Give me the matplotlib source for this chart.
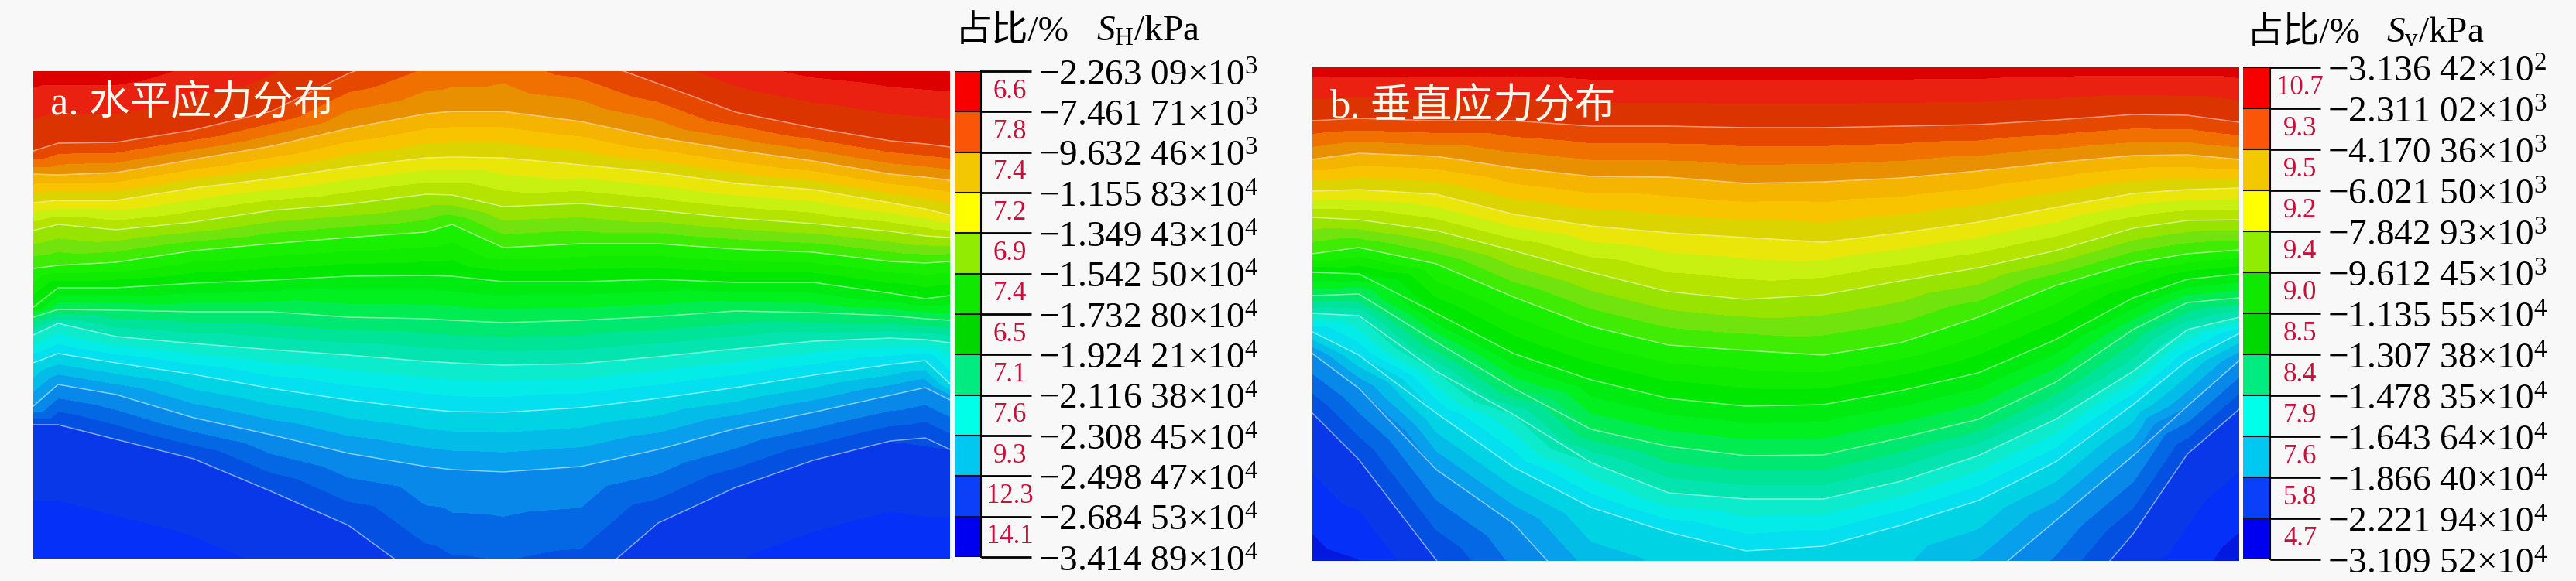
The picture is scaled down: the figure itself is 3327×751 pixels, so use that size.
import matplotlib
matplotlib.use("Agg")
import matplotlib.pyplot as plt
import numpy as np
from matplotlib.transforms import ScaledTranslation

plt.rcParams["font.family"] = ["Liberation Serif", "Noto Sans CJK SC"]
plt.rcParams["mathtext.fontset"] = "custom"
plt.rcParams["mathtext.rm"] = "Liberation Serif"
plt.rcParams["mathtext.it"] = "Liberation Serif:italic"
plt.rcParams["axes.unicode_minus"] = True

W, H = 3327, 751
BG = "#f8f8f8"

# stress at each colour bar tick, kPa
stress_a = [-2263.09, -7461.71, -9632.46, -11558.3, -13494.3, -15425.0, -17328.0,
            -19242.1, -21163.8, -23084.5, -24984.7, -26845.3, -34148.9]
stress_b = [-313.642, -2311.02, -4170.36, -6021.50, -7842.93, -9612.45, -11355.5,
            -13073.8, -14783.5, -16436.4, -18664.0, -22219.4, -31095.2]

labels_a = ["−2.263 09×10$^{3}$", "−7.461 71×10$^{3}$", "−9.632 46×10$^{3}$",
            "−1.155 83×10$^{4}$", "−1.349 43×10$^{4}$", "−1.542 50×10$^{4}$",
            "−1.732 80×10$^{4}$", "−1.924 21×10$^{4}$", "−2.116 38×10$^{4}$",
            "−2.308 45×10$^{4}$", "−2.498 47×10$^{4}$", "−2.684 53×10$^{4}$",
            "−3.414 89×10$^{4}$"]
labels_b = ["−3.136 42×10$^{2}$", "−2.311 02×10$^{3}$", "−4.170 36×10$^{3}$",
            "−6.021 50×10$^{3}$", "−7.842 93×10$^{3}$", "−9.612 45×10$^{3}$",
            "−1.135 55×10$^{4}$", "−1.307 38×10$^{4}$", "−1.478 35×10$^{4}$",
            "−1.643 64×10$^{4}$", "−1.866 40×10$^{4}$", "−2.221 94×10$^{4}$",
            "−3.109 52×10$^{4}$"]

share_a = ["6.6", "7.8", "7.4", "7.2", "6.9", "7.4", "6.5", "7.1", "7.6", "9.3", "12.3", "14.1"]
share_b = ["10.7", "9.3", "9.5", "9.2", "9.4", "9.0", "8.5", "8.4", "7.9", "7.6", "5.8", "4.7"]

# panel a: depth of each contour (one list per tick value) along the section
x_a = [0, 32, 107, 207, 307, 407, 507, 541, 607, 707, 807, 907, 1007, 1107, 1152, 1184]
a0 = [-20, -20, -20, -50, -90, -130, -170, -180, -190, -150, -100, -50, -25, -15, -12, -10]
a1 = [103, 93, 92, 76, 52, 3, -35, -45, -60, -20, 16, 53, 73, 90, 94, 98]
a2 = [133, 134, 131, 114, 97, 74, 55, 52, 52, 65, 86, 102, 116, 133, 137, 141]
a3 = [170, 167, 167, 151, 139, 124, 112, 111, 112, 121, 131, 145, 153, 170, 178, 186]
a4 = [206, 198, 205, 195, 180, 172, 159, 160, 175, 171, 180, 190, 197, 207, 213, 215]
a5 = [255, 251, 247, 232, 223, 215, 208, 198, 228, 223, 223, 230, 234, 246, 248, 246]
a6 = [305, 280, 280, 274, 270, 265, 264, 265, 272, 272, 269, 273, 273, 287, 294, 290]
a7 = [318, 308, 309, 311, 311, 318, 320, 322, 325, 322, 317, 310, 312, 316, 320, 322]
a8 = [341, 326, 343, 352, 360, 367, 375, 377, 380, 378, 369, 359, 349, 345, 347, 351]
a9 = [377, 365, 377, 392, 410, 425, 437, 440, 441, 435, 423, 409, 393, 379, 374, 404]
a10 = [433, 405, 418, 448, 470, 494, 511, 515, 518, 511, 489, 462, 441, 419, 409, 425]
a11 = [457, 457, 476, 501, 543, 587, 660, 680, 690, 670, 584, 538, 503, 478, 474, 489]
a12 = [750, 750, 770, 800, 860, 950, 1100, 1150, 1200, 1150, 1000, 880, 780, 750, 750, 750]

# panel b
x_b = [0, 60, 160, 260, 360, 460, 560, 660, 760, 860, 960, 1060, 1130, 1197]
b0 = [-15, -15, -15, -15, -15, -15, -15, -15, -15, -15, -15, -15, -15, -15]
b1 = [69, 66, 69, 69, 76, 76, 78, 78, 76, 74, 68, 61, 62, 71]
b2 = [119, 111, 115, 130, 141, 142, 150, 148, 143, 134, 123, 114, 113, 119]
b3 = [160, 158, 164, 190, 205, 214, 220, 226, 214, 200, 181, 163, 158, 156]
b4 = [194, 197, 211, 237, 265, 290, 300, 294, 276, 259, 237, 208, 198, 197]
b5 = [241, 233, 254, 297, 335, 359, 366, 372, 356, 323, 282, 253, 241, 236]
b6 = [265, 267, 318, 370, 404, 428, 438, 436, 418, 395, 352, 298, 274, 267]
b7 = [295, 293, 355, 415, 468, 490, 502, 501, 479, 455, 407, 339, 304, 298]
b8 = [318, 321, 393, 449, 511, 550, 558, 558, 535, 502, 455, 393, 339, 323]
b9 = [342, 372, 447, 517, 569, 601, 625, 619, 592, 560, 510, 436, 379, 344]
b10 = [370, 415, 520, 590, 700, 800, 860, 850, 780, 670, 586, 502, 438, 379]
b11 = [447, 507, 637, 770, 900, 1000, 1100, 1100, 950, 820, 720, 603, 500, 442]
b12 = [680, 700, 900, 1100, 1300, 1400, 1500, 1500, 1400, 1200, 1100, 900, 720, 680]

lines_a = [a0, a1, a2, a3, a4, a5, a6, a7, a8, a9, a10, a11, a12]
lines_b = [b0, b1, b2, b3, b4, b5, b6, b7, b8, b9, b10, b11, b12]

# three shades per band in the maps, top band first
field_colors = ["#dd0000", "#ea2010", "#dc3400",
                "#e64800", "#f07000", "#e89000",
                "#f4b400", "#f8c400", "#dcd400",
                "#eae60a", "#c8f010", "#b4e400",
                "#98e400", "#70e40c", "#40ec04",
                "#18f000", "#10ec00", "#00e800",
                "#00ec10", "#00f020", "#00ec50",
                "#00e870", "#00e498", "#04e4b0",
                "#0ceccc", "#04ece8", "#04e0f0",
                "#00d4e4", "#04bce8", "#08a0ec",
                "#0888e8", "#0468e4", "#0450e0",
                "#0838e8", "#0430f8", "#0418e0"]

bar_colors = ["#f80000", "#fb5508", "#f4c800", "#ffff00", "#90ec00", "#10e800",
              "#00d800", "#00ec80", "#00ffe8", "#00c8f0", "#0c40f8", "#0000f0"]


def add_axes_px(fig, x0, y0, x1, y1):
    return fig.add_axes([x0 / W, 1 - y1 / H, (x1 - x0) / W, (y1 - y0) / H])


def draw_map(fig, box, xs, lines, stress, title, title_y):
    ax = add_axes_px(fig, *box)
    px = np.tile(xs, len(lines))
    py = np.concatenate(lines)
    pz = np.repeat(stress, len(xs))
    fine = np.interp(np.arange(0, 12 + 1 / 6, 1 / 3), np.arange(13), stress)
    ax.tricontourf(px, py, pz, levels=fine[::-1], colors=field_colors[::-1])
    for depth in lines[1:-1]:
        ax.plot(xs, depth, color="white", alpha=0.5, lw=1.1)
    ax.set_xlim(0, box[2] - box[0])
    ax.set_ylim(box[3] - box[1], 0)
    ax.set_xticks([])
    ax.set_yticks([])
    for s in ax.spines.values():
        s.set_visible(False)
    ax.text(22, title_y, title, color="#fff8ec", fontsize=38, va="center")
    return ax


def draw_bar(fig, box, labels, share):
    ax = add_axes_px(fig, *box)
    ax.pcolormesh([0, 1], np.arange(13), np.arange(12).reshape(-1, 1),
                  cmap=matplotlib.colors.ListedColormap(bar_colors))
    ax.set_xlim(0, 1)
    ax.set_ylim(12, 0)
    ax.set_xticks([])
    ax.yaxis.tick_right()
    ax.set_yticks(np.arange(13))
    ax.set_yticklabels(labels, fontsize=34, va="center")
    ax.tick_params(axis="y", length=47, width=2, pad=6, color="black")
    # numbers sit a little below their tick
    shift = ScaledTranslation(0, -7 / 100, fig.dpi_scale_trans)
    for lab in ax.get_yticklabels():
        lab.set_transform(lab.get_transform() + shift)
    for s in ax.spines.values():
        s.set_visible(False)
    ax.spines["right"].set_visible(True)
    ax.spines["right"].set_linewidth(1.5)
    ax.hlines(np.arange(13), 0, 1, color="#201010", lw=1.5)
    for i, txt in enumerate(share):
        ax.text(2.1, i + 0.5, txt, transform=ax.get_yaxis_transform(), color="#c8103c",
                fontsize=25, ha="center", va="center")
    return ax


fig = plt.figure(figsize=(W / 100, H / 100), dpi=100, facecolor=BG)

draw_map(fig, (43, 92, 1227, 722), x_a, lines_a, stress_a, "a. 水平应力分布", 42)
draw_bar(fig, (1233, 92, 1267, 720), labels_a, share_a)
draw_map(fig, (1695, 87, 2892, 725), x_b, lines_b, stress_b, "b. 垂直应力分布", 51)
draw_bar(fig, (2897, 87, 2932, 723), labels_b, share_b)

fig.text(1234 / W, 1 - 41 / H, "占比/%", fontsize=34, va="center")
fig.text(1416 / W, 1 - 41 / H, "$\\mathit{S}_{\\mathrm{H}}$/kPa", fontsize=34, va="center")
fig.text(2902 / W, 1 - 43 / H, "占比/%", fontsize=34, va="center")
fig.text(3082 / W, 1 - 43 / H, "$\\mathit{S}_{\\mathrm{v}}$/kPa", fontsize=34, va="center")

fig.savefig("out.png", dpi=100, facecolor=BG)
